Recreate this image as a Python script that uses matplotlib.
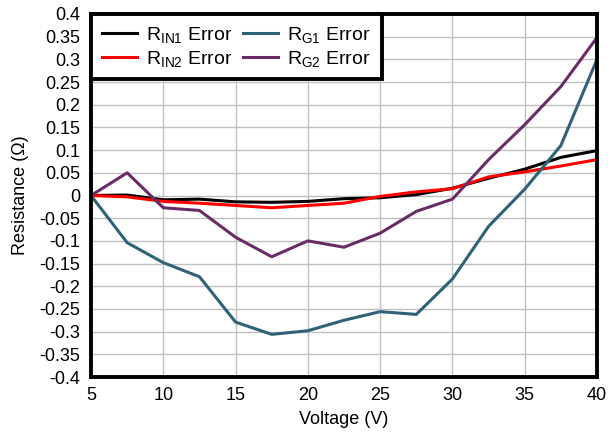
import matplotlib
matplotlib.use("Agg")
import matplotlib.pyplot as plt

plt.rcParams["font.family"] = ["Liberation Sans", "DejaVu Sans"]
plt.rcParams["mathtext.default"] = "regular"

voltage = [5, 7.5, 10, 12.5, 15, 17.5, 20, 22.5, 25, 27.5, 30, 32.5, 35, 37.5, 40]
rin1_err = [0, 0.001, -0.0095, -0.008, -0.014, -0.015, -0.013, -0.007, -0.005, 0.002,
            0.016, 0.038, 0.058, 0.084, 0.099]
rin2_err = [0, -0.003, -0.013, -0.017, -0.022, -0.027, -0.022, -0.017, -0.002, 0.008,
            0.015, 0.041, 0.052, 0.065, 0.079]
rg1_err = [0, -0.104, -0.148, -0.179, -0.279, -0.306, -0.298, -0.275, -0.256, -0.262,
           -0.184, -0.068, 0.014, 0.11, 0.30]
rg2_err = [0, 0.05, -0.027, -0.033, -0.092, -0.135, -0.100, -0.114, -0.083, -0.035,
           -0.008, 0.079, 0.156, 0.24, 0.348]

yticks = [round(-0.4 + 0.05 * i, 2) for i in range(17)]
ylabels = ["%g" % t for t in yticks]

fig = plt.figure(figsize=(6.08, 4.32), dpi=100)
ax = fig.add_axes([0.1497, 0.1273, 0.8322, 0.8403])

ax.plot(voltage, rin1_err, color="black", lw=2.2, label=r"R$_{IN1}$ Error")
ax.plot(voltage, rin2_err, color="#ff0000", lw=2.2, label=r"R$_{IN2}$ Error")
ax.plot(voltage, rg1_err, color="#2f6278", lw=2.2, label=r"R$_{G1}$ Error")
ax.plot(voltage, rg2_err, color="#6a2c67", lw=2.2, label=r"R$_{G2}$ Error")

ax.set_xlim(5, 40)
ax.set_ylim(-0.4, 0.4)
ax.set_xticks(range(5, 41, 5))
ax.set_yticks(yticks)
ax.set_yticklabels(ylabels)
ax.tick_params(axis="y", length=0, labelsize=13, pad=8)
ax.tick_params(axis="x", length=0, labelsize=13, pad=7)
ax.grid(True, color="#c0c0c0", lw=1)
ax.set_axisbelow(True)
for s in ax.spines.values():
    s.set_linewidth(2.8)
    s.set_color("black")

ax.set_xlabel("Voltage (V)", fontsize=13, labelpad=5)
ax.set_ylabel("Resistance (Ω)", fontsize=13, labelpad=7)

leg = ax.legend(ncol=2, loc="upper left", fontsize=14, frameon=True, fancybox=False,
                framealpha=1, edgecolor="black", borderaxespad=0, handlelength=1.8,
                labelspacing=0.2, columnspacing=0.5, borderpad=0.55, handletextpad=0.5)
leg.get_frame().set_linewidth(2.8)

fig.savefig("out.png", dpi=100)
